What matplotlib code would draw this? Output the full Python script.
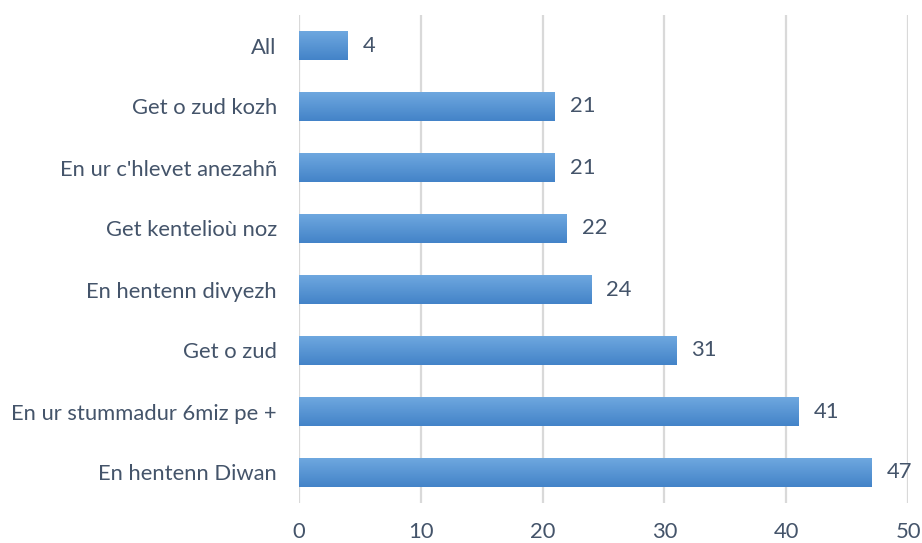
import matplotlib
matplotlib.use("Agg")
import matplotlib.pyplot as plt
import numpy as np
from matplotlib.colors import LinearSegmentedColormap

categories = ["En hentenn Diwan", "En ur stummadur 6miz pe +", "Get o zud",
              "En hentenn divyezh", "Get kentelioù noz", "En ur c'hlevet anezahñ",
              "Get o zud kozh", "All"]
values = [47, 41, 31, 24, 22, 21, 21, 4]
xticks = [0, 10, 20, 30, 40, 50]

text_color = "#44546A"
plt.rcParams['font.family'] = ['Lato', 'DejaVu Sans']

fig = plt.figure(figsize=(9.22, 5.43), dpi=100)
ax = fig.add_axes([299/922, 1-503/543, (908-299)/922, (503-15)/543])

y = np.arange(len(categories))
bars = ax.barh(y, values, height=0.49, color="none", zorder=3)

cmap = LinearSegmentedColormap.from_list("g", ["#70A9E0", "#4383C8"])
grad = np.linspace(0, 1, 256).reshape(-1, 1)
for rect in bars:
    x0, y0 = rect.get_x(), rect.get_y()
    w, h = rect.get_width(), rect.get_height()
    im = ax.imshow(grad, cmap=cmap, aspect="auto",
                   extent=[x0, x0 + w, y0, y0 + h], origin="upper", zorder=3)
    im.set_clip_path(rect)

ax.set_xlim(0, 50)
ax.set_ylim(-0.5, len(categories) - 0.5)
ax.set_xticks(xticks)
ax.set_yticks(y)
ax.set_yticklabels(categories)
ax.tick_params(axis="both", length=0, labelsize=15.8, colors=text_color)
ax.tick_params(axis="y", pad=16)
ax.tick_params(axis="x", pad=14)
for s in ax.spines.values():
    s.set_visible(False)
ax.grid(axis="x", color="#D9D9D9", linewidth=1.6, zorder=0)
ax.set_axisbelow(True)

for yi, v in zip(y, values):
    ax.annotate(str(v), (v, yi), xytext=(15, 0), textcoords="offset pixels",
                va="center", ha="left", fontsize=15.8, color=text_color)

fig.savefig("out.png", dpi=100)
